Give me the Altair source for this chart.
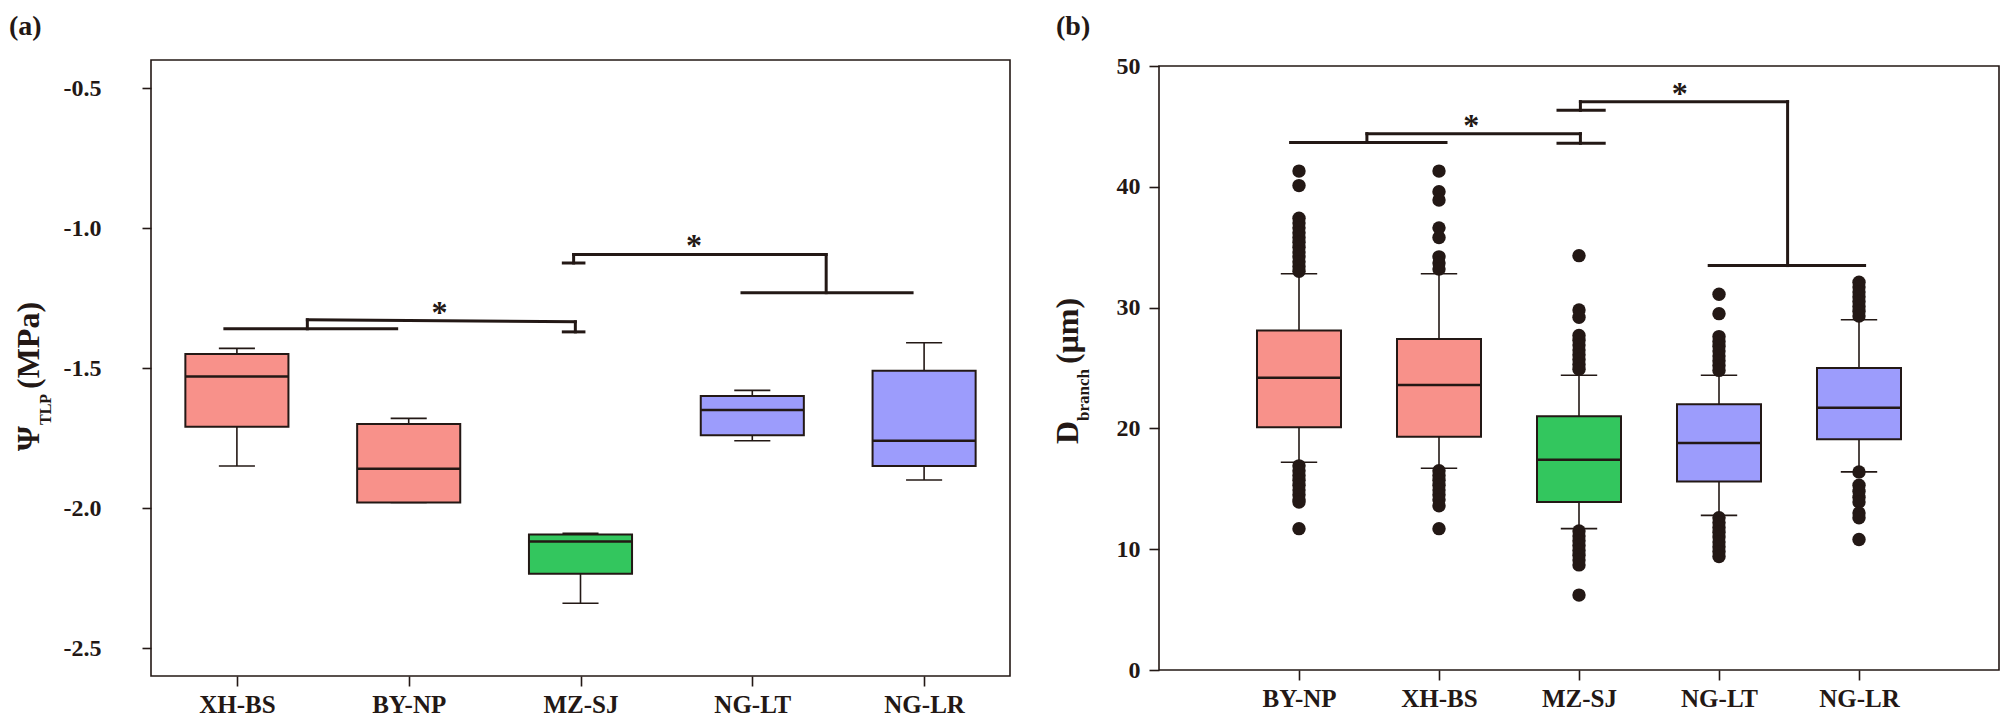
import json
import altair as alt
import pandas as pd

INK = "#231815"
SALMON = "#F8918A"
GREEN = "#33C65E"
BLUE = "#9C9CFC"
FONT = "Liberation Serif"

# ---------------- Panel (a): turgor loss point ----------------
a_cats = ["XH-BS", "BY-NP", "MZ-SJ", "NG-LT", "NG-LR"]
a_min = [-1.85, -1.98, -2.34, -1.76, -1.90]
a_q1 = [-1.71, -1.98, -2.235, -1.74, -1.85]
a_med = [-1.53, -1.86, -2.12, -1.65, -1.76]
a_q3 = [-1.45, -1.70, -2.095, -1.60, -1.51]
a_max = [-1.43, -1.68, -2.09, -1.58, -1.41]
a_fill = [SALMON, SALMON, GREEN, BLUE, BLUE]
a_tick_vals = [-2.5, -2.0, -1.5, -1.0, -0.5]
a_tick_labels = ["-2.5", "-2.0", "-1.5", "-1.0", "-0.5"]
# significance brackets (x in category-index units, y in MPa)
a_seg_x = [-0.07, 0.41, 0.41, 1.97, 1.90, 1.90, 1.96, 1.96, 3.43, 2.94]
a_seg_x2 = [0.93, 0.41, 1.97, 1.97, 2.02, 2.02, 1.96, 3.43, 3.43, 3.93]
a_seg_y = [-1.36, -1.36, -1.328, -1.335, -1.371, -1.125, -1.125, -1.095, -1.095, -1.231]
a_seg_y2 = [-1.36, -1.328, -1.335, -1.371, -1.371, -1.125, -1.095, -1.095, -1.231, -1.231]
a_star_x = [1.18, 2.66]
a_star_y = [-1.285, -1.046]

# ---------------- Panel (b): branch vessel diameter ----------------
b_cats = ["BY-NP", "XH-BS", "MZ-SJ", "NG-LT", "NG-LR"]
b_min = [17.2, 16.7, 11.7, 12.8, 16.4]
b_q1 = [20.1, 19.3, 13.9, 15.6, 19.1]
b_med = [24.2, 23.6, 17.4, 18.8, 21.7]
b_q3 = [28.1, 27.4, 21.0, 22.0, 25.0]
b_max = [32.8, 32.8, 24.4, 24.4, 29.0]
b_fill = [SALMON, SALMON, GREEN, BLUE, BLUE]
b_outliers = {
    "BY-NP": [41.3, 40.1, 37.4, 37.0, 36.6, 36.2, 35.8, 35.4, 35.0, 34.6, 34.2, 33.8,
              33.4, 33.0, 16.9, 16.5, 16.1, 15.7, 15.3, 14.9, 14.5, 14.1, 13.9, 11.7],
    "XH-BS": [41.3, 39.6, 38.9, 36.6, 35.8, 34.2, 33.7, 33.2, 16.5, 16.1, 15.7, 15.3,
              14.9, 14.5, 14.1, 13.6, 11.7],
    "MZ-SJ": [34.3, 29.8, 29.2, 27.7, 27.3, 26.9, 26.5, 26.1, 25.7, 25.3, 24.9, 11.5,
              11.1, 10.7, 10.3, 9.9, 9.5, 9.1, 8.7, 6.2],
    "NG-LT": [31.1, 29.5, 27.6, 27.2, 26.8, 26.4, 26.0, 25.6, 25.2, 24.8, 12.6, 12.2,
              11.8, 11.4, 11.0, 10.6, 10.2, 9.8, 9.4],
    "NG-LR": [32.1, 31.7, 31.3, 30.9, 30.5, 30.1, 29.7, 29.3, 16.4, 15.3, 14.8, 14.3,
              13.9, 13.0, 12.6, 10.8],
}
b_tick_vals = [0, 10, 20, 30, 40, 50]
b_tick_labels = ["0", "10", "20", "30", "40", "50"]
b_seg_x = [0.94, 1.485, 1.485, 3.01, 2.85, 2.85, 3.01, 3.01, 4.49, 3.93]
b_seg_x2 = [2.05, 1.485, 3.01, 3.01, 3.18, 3.18, 3.01, 4.49, 4.49, 5.04]
b_seg_y = [43.67, 43.67, 44.4, 44.4, 43.6, 46.33, 46.33, 47.05, 47.05, 33.48]
b_seg_y2 = [43.67, 44.4, 44.4, 43.6, 43.6, 46.33, 47.05, 47.05, 33.48, 33.48]
b_star_x = [2.23, 3.72]
b_star_y = [45.45, 48.07]


def one_row():
    return pd.DataFrame({"k": [0]})


def panel(cats, start, mn, q1, med, q3, mx, fills, outliers, xdom, ydom,
          tick_vals, tick_labels, seg, stars, hw, cw, W, H, yaxis_opts, texts):
    idx = [start + i for i in range(len(cats))]
    box = pd.DataFrame({
        "cat": cats, "x": idx,
        "xl": [i - hw for i in idx], "xr": [i + hw for i in idx],
        "cl": [i - cw for i in idx], "cr": [i + cw for i in idx],
        "mn": mn, "q1": q1, "med": med, "q3": q3, "mx": mx, "fill": fills,
    })
    ox, oy = [], []
    for c, vals in outliers.items():
        for v in vals:
            ox.append(start + cats.index(c))
            oy.append(v)
    outs = pd.DataFrame({"x": ox, "y": oy})
    segs = pd.DataFrame({"x": seg[0], "x2": seg[1], "y": seg[2], "y2": seg[3]})
    st = pd.DataFrame({"x": stars[0], "y": stars[1]})

    xs = alt.Scale(domain=xdom, nice=False, zero=False)
    ys = alt.Scale(domain=ydom, nice=False, zero=False)
    xlab = json.dumps(cats) + "[datum.value - %d]" % start
    xaxis = alt.Axis(values=idx, labelExpr=xlab, title=None, tickSize=10,
                     labelPadding=6, labelFontSize=25, labelFlush=False)
    ylab = json.dumps(tick_labels) + "[indexof(" + json.dumps(tick_vals) + ", datum.value)]"
    yaxis = alt.Axis(values=tick_vals, labelExpr=ylab, title=None, labelFlush=False,
                     labelAlign="right", labelBaseline="middle", **yaxis_opts)

    def X(f):
        return alt.X(f, type="quantitative", scale=xs, axis=xaxis, title=None)

    def Y(f):
        return alt.Y(f, type="quantitative", scale=ys, axis=yaxis, title=None)

    base = alt.Chart(box)
    lo_wh = base.mark_rule(color=INK, strokeWidth=1.6).encode(
        x=X("x"), y=Y("mn"), y2="q1")
    hi_wh = base.mark_rule(color=INK, strokeWidth=1.6).encode(
        x=X("x"), y=Y("q3"), y2="mx")
    cap_lo = base.mark_rule(color=INK, strokeWidth=1.6).encode(
        x=X("cl"), x2="cr", y=Y("mn"))
    cap_hi = base.mark_rule(color=INK, strokeWidth=1.6).encode(
        x=X("cl"), x2="cr", y=Y("mx"))
    rect = base.mark_rect(stroke=INK, strokeWidth=2).encode(
        x=X("xl"), x2="xr", y=Y("q1"), y2="q3",
        fill=alt.Fill("fill:N", scale=None))
    medl = base.mark_rule(color=INK, strokeWidth=2.5).encode(
        x=X("xl"), x2="xr", y=Y("med"))
    layers = [lo_wh, hi_wh, cap_lo, cap_hi, rect, medl]
    if len(outs):
        layers.append(alt.Chart(outs).mark_circle(color=INK, opacity=1, size=180).encode(
            x=X("x"), y=Y("y")))
    layers.append(alt.Chart(segs).mark_rule(color=INK, strokeWidth=3, strokeCap="square").encode(
        x=X("x"), x2="x2", y=Y("y"), y2="y2"))
    layers.append(alt.Chart(st).mark_text(text="*", font=FONT, fontSize=32, fontWeight="bold",
                                          color=INK, baseline="alphabetic", dy=15).encode(
        x=X("x"), y=Y("y")))
    for t in texts:
        props = dict(t)
        px, py = props.pop("px"), props.pop("py")
        layers.append(alt.Chart(one_row()).mark_text(font=FONT, color=INK, **props).encode(
            x=alt.value(px), y=alt.value(py)))
    return alt.layer(*layers).properties(width=W, height=H)


left_texts = [
    dict(text="(a)", fontSize=28, fontWeight="bold", align="left", baseline="top", px=-142, py=-47),
    dict(text="Ψ", fontSize=32, fontWeight="bold", angle=270, align="left", baseline="alphabetic", px=-112, py=391),
    dict(text="TLP", fontSize=16, fontWeight="bold", angle=270, align="left", baseline="alphabetic", px=-100, py=365),
    dict(text="(MPa)", fontSize=32, fontWeight="bold", angle=270, align="left", baseline="alphabetic", px=-112, py=329),
]
right_texts = [
    dict(text="(b)", fontSize=28, fontWeight="bold", align="left", baseline="top", px=-103, py=-53),
    dict(text="D", fontSize=32, fontWeight="bold", angle=270, align="left", baseline="alphabetic", px=-81, py=378),
    dict(text="branch", fontSize=17, fontWeight="bold", angle=270, align="left", baseline="alphabetic", px=-70, py=355),
    dict(text="(μm)", fontSize=32, fontWeight="bold", angle=270, align="left", baseline="alphabetic", px=-81, py=298),
]

left = panel(a_cats, 0, a_min, a_q1, a_med, a_q3, a_max, a_fill, {}, [-0.5, 4.5], [-2.6, -0.4],
             a_tick_vals, a_tick_labels, (a_seg_x, a_seg_x2, a_seg_y, a_seg_y2),
             (a_star_x, a_star_y), 0.30, 0.105, 859, 616,
             dict(tickSize=9, labelPadding=41, labelFontSize=24), left_texts)
right = panel(b_cats, 1, b_min, b_q1, b_med, b_q3, b_max, b_fill, b_outliers, [0, 6], [0, 50],
              b_tick_vals, b_tick_labels, (b_seg_x, b_seg_x2, b_seg_y, b_seg_y2),
              (b_star_x, b_star_y), 0.30, 0.13, 840, 604,
              dict(tickSize=10, labelPadding=9, labelFontSize=24), right_texts)

chart = alt.hconcat(left, right, spacing=149, bounds="flush", center=True).properties(
    padding={"top": 4, "left": 0, "right": 0, "bottom": 0}, background="white"
).configure_view(stroke=INK, strokeWidth=1.6).configure_axis(
    domain=False, grid=False, tickColor=INK, tickWidth=1.6, labelColor=INK,
    labelFont=FONT, labelFontWeight="bold"
)

chart.save("out.html", embed_options={"renderer": "svg", "actions": False})
